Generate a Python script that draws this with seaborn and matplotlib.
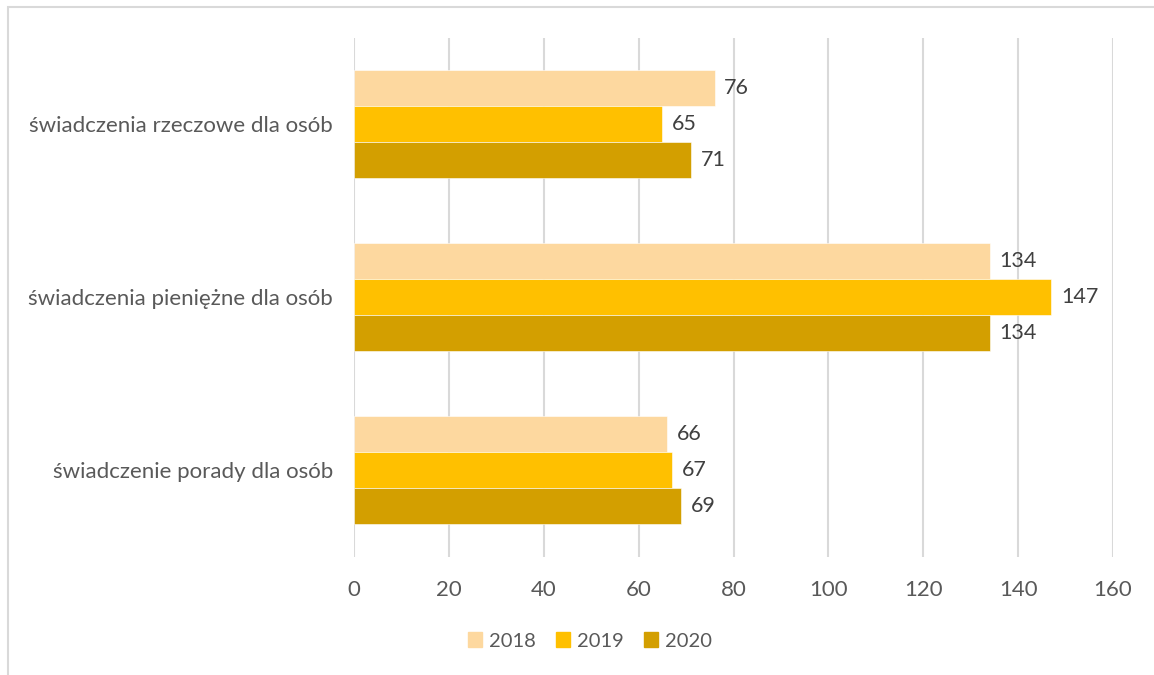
import pandas as pd
import matplotlib.pyplot as plt
import matplotlib.patches as mpatches
import seaborn as sns

# Data
categories = ["świadczenia rzeczowe dla osób",
              "świadczenia pieniężne dla osób",
              "świadczenie porady dla osób"]
years = ["2018", "2019", "2020"]
values_2018 = [76, 134, 66]
values_2019 = [65, 147, 67]
values_2020 = [71, 134, 69]

colors = {"2018": "#FDD89F", "2019": "#FFC000", "2020": "#D39F00"}
text_color = "#595959"

df = pd.DataFrame({
    "category": categories * 3,
    "year": [y for y in years for _ in categories],
    "value": values_2018 + values_2019 + values_2020,
})

sns.set_style("white")
plt.rcParams['font.family'] = ['Lato', 'DejaVu Sans']

fig = plt.figure(figsize=(11.54, 6.75), dpi=100)
ax = fig.add_axes([354 / 1154, 1 - 556.5 / 675, (1113 - 354) / 1154, (556.5 - 37.5) / 675])

sns.barplot(data=df, y="category", x="value", hue="year", order=categories,
            hue_order=years, palette=colors, saturation=1, width=0.625, orient="h",
            edgecolor="white", linewidth=0.4, legend=False, ax=ax)

for container in ax.containers:
    ax.bar_label(container, padding=7, fontsize=15.5, color="#404040")

ax.set_xlim(0, 160)
ax.set_ylim(2.5, -0.5)
ax.set_xticks(range(0, 161, 20))
ax.grid(axis="x", color="#D9D9D9", linewidth=1.5)
ax.set_axisbelow(True)
for s in ax.spines.values():
    s.set_visible(False)
ax.set_xlabel("")
ax.set_ylabel("")
ax.tick_params(axis="both", length=0, labelsize=16, labelcolor=text_color)
ax.tick_params(axis="x", pad=17)
ax.tick_params(axis="y", pad=15)

# legend at the bottom
handles = [mpatches.Patch(color=colors[y], label=y) for y in years]
fig.legend(handles=handles, loc="center", bbox_to_anchor=(590 / 1154, 1 - 641 / 675),
           ncol=3, frameon=False, fontsize=14.5, labelcolor=text_color,
           handlelength=0.7, handleheight=0.7, handletextpad=0.35, columnspacing=1.0)

# chart frame (top and left edges)
frame = mpatches.Rectangle((8 / 1154, -0.1), 1.2, 1.1 - 7 / 675, transform=fig.transFigure,
                           fill=False, edgecolor="#D9D9D9", linewidth=1.5)
fig.patches.append(frame)

fig.savefig("out.png", dpi=100)
